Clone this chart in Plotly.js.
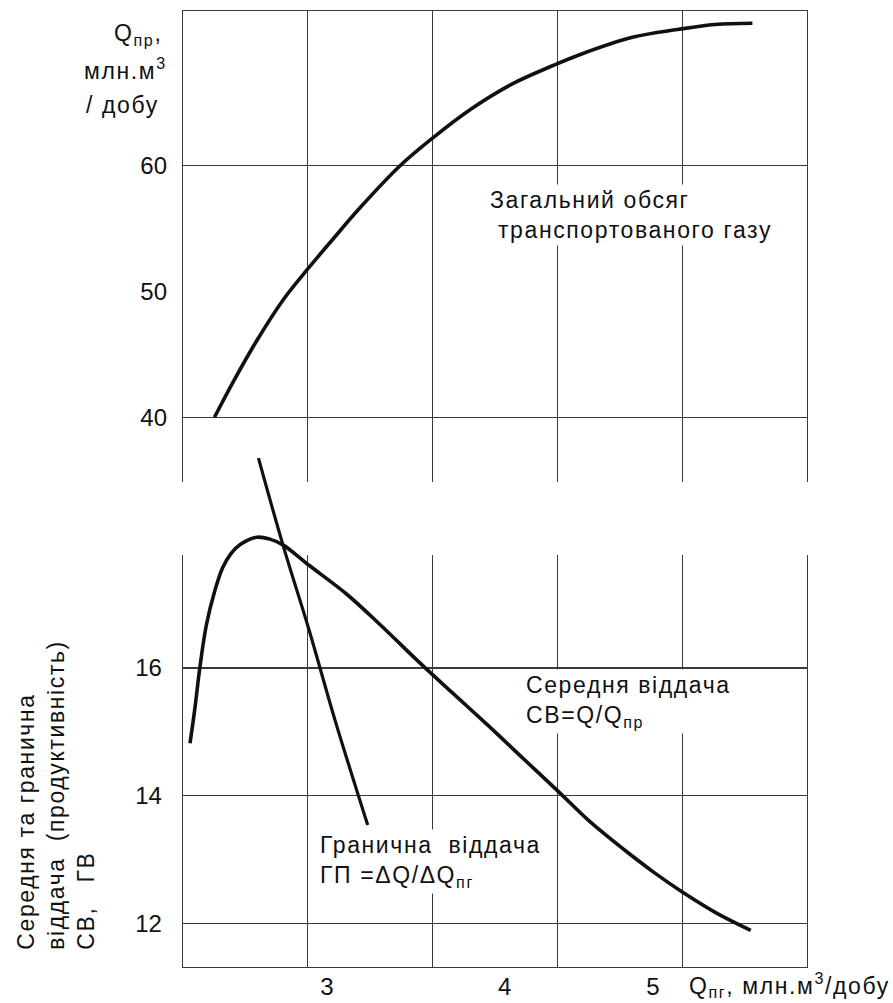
<!DOCTYPE html>
<html>
<head>
<meta charset="utf-8">
<script src="https://cdn.plot.ly/plotly-3.0.1.min.js"></script>
<style>
html,body{margin:0;padding:0;background:#fff;}
#chart{width:893px;height:1003px;}
text.annotation-text{letter-spacing:1.6px;}
</style>
</head>
<body>
<div id="chart"></div>
<script>
// ---- data ----
// Total transported gas volume (top panel): Q_пг (млн.м3/добу) vs Q_пр (млн.м3/добу)
const totalX = [2.31, 2.42, 2.57, 2.73, 2.89, 3.04, 3.20, 3.45, 3.65, 3.88, 4.14, 4.38, 4.55, 4.88, 5.15, 5.38, 5.61];
const totalY = [40.0, 42.7, 46.1, 49.3, 51.9, 54.2, 56.6, 60.0, 62.2, 64.45, 66.5, 67.9, 68.8, 70.2, 70.8, 71.2, 71.3];
// Average productivity СВ = Q/Q_пр (bottom panel)
const avgX = [2.16, 2.19, 2.22, 2.26, 2.31, 2.36, 2.41, 2.47, 2.57, 2.65, 2.73, 2.89, 3.12, 3.33, 3.57, 3.77, 3.98, 4.18, 4.43, 4.61, 4.82, 5.01, 5.18, 5.39, 5.60];
const avgY = [14.82, 15.37, 16.00, 16.67, 17.19, 17.57, 17.79, 17.94, 18.05, 18.02, 17.93, 17.61, 17.16, 16.67, 16.08, 15.61, 15.12, 14.64, 14.04, 13.60, 13.16, 12.79, 12.49, 12.16, 11.89];
// Marginal productivity ГП = ΔQ/ΔQ_пг (bottom panel)
const margX = [2.58, 2.73, 2.89, 3.05, 3.25];
const margY = [19.29, 17.93, 16.60, 15.18, 13.54];
// tick labels
const xTickText = ['3', '4', '5'];
const topTickVals = [40, 50, 60];
const bottomTickVals = [12, 14, 16];

// ---- layout geometry ----
const FONT = 'Liberation Sans, Arial, sans-serif';
const FS = 23;
const INK = '#111';
const GRID = '#3a3a3a';
const X_RANGE = [2.117, 5.945];
const X_DTICK = (X_RANGE[1] - X_RANGE[0]) / 5;
const TOP_RANGE = [34.86, 72.27];
const BOT_RANGE = [11.315, 17.771];
const BOT_DOM = [0, 0.43096];
const DATA_DOM = [0, 0.5408];
const DATA_RANGE = [BOT_RANGE[0], BOT_RANGE[0] + (BOT_RANGE[1] - BOT_RANGE[0]) * (DATA_DOM[1] - DATA_DOM[0]) / (BOT_DOM[1] - BOT_DOM[0])];

const lineStyle = {color: INK, width: 3.6, shape: 'spline', smoothing: 1};

const traces = [
  {x: totalX, y: totalY, xaxis: 'x', yaxis: 'y4', mode: 'lines', line: lineStyle, hoverinfo: 'skip'},
  {x: avgX, y: avgY, xaxis: 'x3', yaxis: 'y3', mode: 'lines', line: lineStyle, hoverinfo: 'skip'},
  {x: margX, y: margY, xaxis: 'x3', yaxis: 'y3', mode: 'lines', line: Object.assign({}, lineStyle, {width: 3.2}), hoverinfo: 'skip'}
];

const baseX = {range: X_RANGE, zeroline: false, ticks: '', fixedrange: true};
const font = {family: FONT, size: FS, color: INK};
const tickFont = {family: FONT, size: 24, color: INK};
const gridAxis = {showline: true, linecolor: GRID, linewidth: 1.3, showgrid: true, gridcolor: GRID, gridwidth: 1.3};

const layout = {
  width: 893, height: 1003,
  margin: {l: 183, r: 86, t: 11, b: 36},
  paper_bgcolor: '#fff', plot_bgcolor: 'rgba(0,0,0,0)',
  showlegend: false,
  font: font,
  // top panel: grid axes
  xaxis: Object.assign({}, baseX, gridAxis, {anchor: 'y', side: 'top', tick0: X_RANGE[0], dtick: X_DTICK, showticklabels: false}),
  yaxis: Object.assign({}, gridAxis, {domain: [0.5073, 1], range: TOP_RANGE, anchor: 'x', mirror: true,
    tick0: 40, dtick: 20, showticklabels: false, zeroline: false, ticks: '', fixedrange: true}),
  // top panel: labelled value axis carrying the curve
  yaxis4: {overlaying: 'y', side: 'left', anchor: 'x', range: TOP_RANGE, tickvals: topTickVals, showgrid: false,
    zeroline: false, ticks: '', showline: false, tickfont: tickFont, ticklabelstandoff: 15, fixedrange: true},
  // bottom panel grid
  xaxis2: Object.assign({}, baseX, gridAxis, {anchor: 'y2', side: 'bottom', tick0: X_RANGE[0], dtick: X_DTICK, showticklabels: false}),
  yaxis2: Object.assign({}, gridAxis, {domain: BOT_DOM, range: BOT_RANGE, anchor: 'x2', mirror: true,
    tickvals: bottomTickVals, zeroline: false, ticks: '', tickfont: tickFont, ticklabelstandoff: 15, fixedrange: true}),
  // bottom panel data (taller, same scale, so curves may rise above the grid); its x axis carries the labels
  xaxis3: Object.assign({}, baseX, {anchor: 'y3', side: 'bottom', showgrid: false, showline: false,
    tickvals: [3, 4.09, 5], ticktext: xTickText, tickfont: tickFont, ticklabelstandoff: 3}),
  yaxis3: {domain: DATA_DOM, range: DATA_RANGE, anchor: 'x3', visible: false, fixedrange: true},
  annotations: [
    {xref: 'paper', yref: 'paper', x: -0.030, y: 0.9749, xanchor: 'right', yanchor: 'middle', showarrow: false,
     text: 'Q<sub>пр</sub>,', font: font},
    {xref: 'paper', yref: 'paper', x: -0.022, y: 0.9362, xanchor: 'right', yanchor: 'bottom', showarrow: false,
     text: 'млн.м<sup>3</sup>', font: font, yshift: -14},
    {xref: 'paper', yref: 'paper', x: -0.035, y: 0.9017, xanchor: 'right', yanchor: 'middle', showarrow: false,
     text: '/ добу', font: font},
    {xref: 'paper', yref: 'paper', x: -0.204, y: 0.0157, xanchor: 'center', yanchor: 'bottom', align: 'left', showarrow: false,
     textangle: -90, text: 'Середня та гранична<br>віддача\u00A0\u00A0(продуктивність)<br>СВ,\u00A0\u00A0\u00A0ГВ', font: font},
    {xref: 'paper', yref: 'paper', x: 0.808, y: -0.0188, xanchor: 'left', yanchor: 'middle', showarrow: false,
     text: 'Q<sub>пг</sub>, млн.м<sup>3</sup>/добу', font: font},
    {xref: 'x', yref: 'y', x: 3.98, y: 56.07, xanchor: 'left', yanchor: 'middle', align: 'left', showarrow: false,
     bgcolor: '#fff', borderpad: 2, text: 'Загальний обсяг<br>\u00A0транспортованого газу', font: font},
    {xref: 'x2', yref: 'y2', x: 4.2, y: 15.47, xanchor: 'left', yanchor: 'middle', align: 'left', showarrow: false,
     bgcolor: '#fff', borderpad: 2, text: 'Середня віддача<br>СВ=Q/Q<sub>пр</sub>', font: font},
    {xref: 'x2', yref: 'y2', x: 2.94, y: 12.975, xanchor: 'left', yanchor: 'middle', align: 'left', showarrow: false,
     bgcolor: '#fff', borderpad: 2, text: 'Гранична\u00A0\u00A0віддача<br>ГП =ΔQ/ΔQ<sub>пг</sub>', font: font}
  ]
};

Plotly.newPlot('chart', traces, layout, {staticPlot: true, displayModeBar: false});
</script>
</body>
</html>
